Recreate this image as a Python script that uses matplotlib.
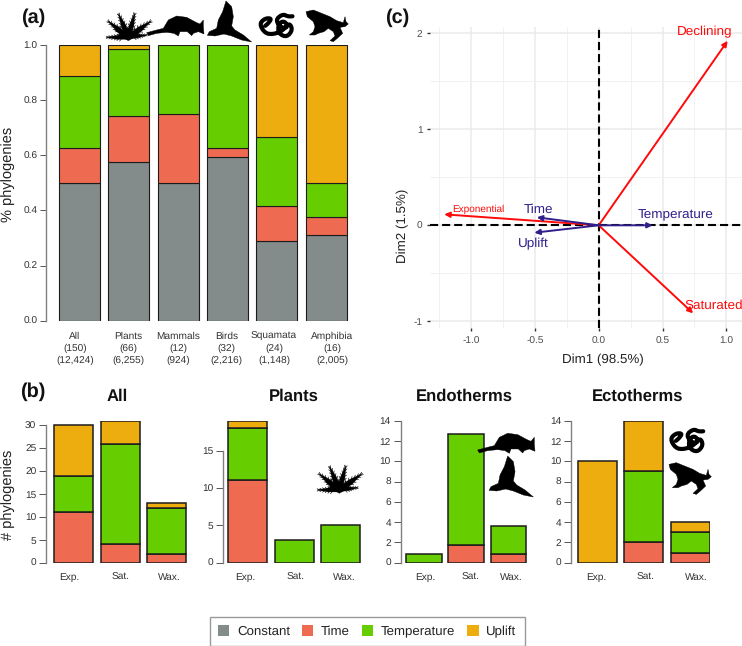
import numpy as np
import matplotlib
matplotlib.use("Agg")
import matplotlib.pyplot as plt
from matplotlib.patches import Patch, Polygon
from matplotlib.lines import Line2D

plt.rcParams['font.family'] = ['Liberation Sans', 'DejaVu Sans']
plt.rcParams['axes.unicode_minus'] = False
plt.rcParams['text.hinting'] = 'no_hinting'

W, H = 742, 646
C_CONST, C_TIME, C_TEMP, C_UPL = '#838B8B', '#EE6A50', '#66CD00', '#EEAD0E'
NAVY, RED = '#2E1F8A', '#FF0A0A'

# ---------- data ----------
a_groups = ['All', 'Plants', 'Mammals', 'Birds', 'Squamata', 'Amphibia']
a_counts = ['(150)', '(66)', '(12)', '(32)', '(24)', '(16)']
a_species = ['(12,424)', '(6,255)', '(924)', '(2,216)', '(1,148)', '(2,005)']
a_constant = [0.500, 0.575, 0.500, 0.594, 0.290, 0.3125]
a_time = [0.125, 0.167, 0.250, 0.031, 0.127, 0.0625]
a_temperature = [0.262, 0.243, 0.250, 0.375, 0.250, 0.125]
a_uplift = [0.113, 0.015, 0.000, 0.000, 0.333, 0.500]

b_cats = ['Exp.', 'Sat.', 'Wax.']
all_time = [11, 4, 2]
all_temp = [8, 22, 10]
all_upl = [11, 5, 1]
plants_time = [11, 0, 0]
plants_temp = [7, 3, 5]
plants_upl = [1, 0, 0]
endo_time = [0, 1.75, 0.85]
endo_temp = [0.85, 10.9, 2.75]
endo_upl = [0, 0, 0]
ecto_time = [0, 2, 1]
ecto_temp = [0, 7, 2]
ecto_upl = [10, 5, 1]

var_names = ['Declining', 'Saturated', 'Exponential']
var_x = [1.01, 0.74, -1.21]
var_y = [1.92, -0.916, 0.114]
sup_names = ['Time', 'Uplift', 'Temperature']
sup_x = [-0.485, -0.504, 0.423]
sup_y = [0.083, -0.077, 0.0]

# ---------- helpers ----------
fig = plt.figure(figsize=(W / 100, H / 100), dpi=100, facecolor='white')


def px_axes(x0, x1, ytop, ybot, **kw):
    return fig.add_axes([x0 / W, 1 - ybot / H, (x1 - x0) / W, (ybot - ytop) / H], **kw)


def fx(p):
    return p / W


def fy(p):
    return 1 - p / H


def stacked(ax, series, colors, width, lw):
    base = np.zeros(len(series[0]))
    pos = np.arange(len(series[0]))
    for vals, col in zip(series, colors):
        vals = np.asarray(vals, float)
        mask = vals > 0
        ax.bar(pos[mask], vals[mask], width, bottom=base[mask], color=col,
               edgecolor='#1c1c1c', linewidth=lw, zorder=2)
        base += vals


def r_axis(ax, ticks, fmt, ticklen):
    ax.set_yticks(ticks)
    ax.set_yticklabels([fmt(t) for t in ticks])
    for s in ('top', 'right', 'bottom'):
        ax.spines[s].set_visible(False)
    ax.spines['left'].set_bounds(ticks[0], ticks[-1])
    ax.spines['left'].set_color('#808080')
    ax.spines['left'].set_linewidth(1.0)
    ax.tick_params(axis='y', length=ticklen, width=0.7, color='#555555',
                   labelsize=7.3, labelcolor='#333333', pad=2)
    ax.tick_params(axis='x', length=0, labelsize=7.3, labelcolor='#333333')


# ---------- panel a ----------
ax = px_axes(46, 352, 45, 320.7)
first, step = 79.5, 49.3
ax.set_xlim((46 - first) / step, (352 - first) / step)
ax.set_ylim(0, 1)
stacked(ax, [a_constant, a_time, a_temperature, a_uplift],
        [C_CONST, C_TIME, C_TEMP, C_UPL], 41 / step, 0.8)
r_axis(ax, [0, 0.2, 0.4, 0.6, 0.8, 1.0], lambda t: f'{t:.1f}', 4)
label_px = np.array([75, 128.3, 178, 226.3, 274, 332.3])
ax.set_xticks((label_px - first) / step)
ax.set_xticklabels([f'{g}\n{c}\n{s}' for g, c, s in zip(a_groups, a_counts, a_species)],
                   linespacing=1.33)
ax.tick_params(axis='x', pad=8.2)
ax.set_ylabel('% phylogenies', fontsize=10.5, color='#222222', va='center')
ax.yaxis.set_label_coords(fx(8), fy(174), transform=fig.transFigure)

# ---------- panel b ----------
panels = [
    ('All', 46, 187, 54.3 + 19.5, 46.5, 39, 31, [0, 5, 10, 15, 20, 25, 30],
     (all_time, all_temp, all_upl), [69.7, 121, 169], 117.7),
    ('Plants', 223, 361, 247.8, 46.5, 39, 19, [0, 5, 10, 15],
     (plants_time, plants_temp, plants_upl), [245, 296, 344], 293.7),
    ('Endotherms', 400.7, 527, 423.9, 42.3, 35.6, 14, [0, 2, 4, 6, 8, 10, 12, 14],
     (endo_time, endo_temp, endo_upl), [425.3, 470.7, 511.3], 464),
    ('Ectotherms', 571, 710, 597, 46.5, 39, 14, [0, 2, 4, 6, 8, 10, 12, 14],
     (ecto_time, ecto_temp, ecto_upl), [596.7, 646, 696], 637.7),
]
for k, (title, x0, x1, c0, dx, bw, ymax, ticks, ser, lab, tx) in enumerate(panels):
    ax = px_axes(x0, x1, 420.7, 562.7)
    ax.set_xlim((x0 - c0) / dx, (x1 - c0) / dx)
    ax.set_ylim(0, ymax)
    stacked(ax, ser, [C_TIME, C_TEMP, C_UPL], bw / dx, 1.1)
    r_axis(ax, ticks, str, 5)
    ax.set_xticks((np.array(lab) - c0) / dx)
    ax.set_xticklabels(b_cats)
    ax.tick_params(axis='x', pad=7)
    ax.set_title(title, fontsize=12, fontweight='bold', x=fx(tx), y=fy(396.5),
                 transform=fig.transFigure, ha='center', va='center', color='#111111')
    if k == 0:
        ax.set_ylabel('# phylogenies', fontsize=10.5, color='#222222', va='center')
        ax.yaxis.set_label_coords(fx(8), fy(495), transform=fig.transFigure)

# ---------- panel c ----------
ox, oy, sx, sy = 598.7, 225.3, 127.7, 96.1
ax = px_axes(430, 742, 27, 328)
ax.set_xlim((430 - ox) / sx, (742 - ox) / sx)
ax.set_ylim((oy - 328) / sy, (oy - 27) / sy)
ax.set_xticks([-1, -0.5, 0, 0.5, 1])
ax.set_xticklabels(['-1.0', '-0.5', '0.0', '0.5', '1.0'])
ax.set_yticks([-1, 0, 1, 2])
ax.set_xticks([-1.25, -0.75, -0.25, 0.25, 0.75], minor=True)
ax.set_yticks([-0.5, 0.5, 1.5], minor=True)
ax.grid(True, which='major', color='#EBEBEB', lw=1.1, zorder=0)
ax.grid(True, which='minor', color='#EFEFEF', lw=0.6, zorder=0)
ax.set_axisbelow(True)
for s in ax.spines.values():
    s.set_visible(False)
ax.tick_params(axis='y', which='major', length=2, width=1, color='#333333',
               labelsize=7.3, labelcolor='#4D4D4D', pad=3.5)
ax.tick_params(axis='x', which='major', length=2, width=1, color='#333333',
               labelsize=7.3, labelcolor='#4D4D4D', pad=4.5)
ax.tick_params(axis='both', which='minor', length=0)
ax.axhline(0, color='black', lw=1.5, dashes=(3.9, 1.9), zorder=2)
ax.axvline(0, color='black', lw=1.5, dashes=(3.9, 1.9), zorder=2)
for xs, ys, col in ((var_x, var_y, RED), (sup_x, sup_y, NAVY)):
    for x, y in zip(xs, ys):
        ax.annotate('', xy=(x, y), xytext=(0, 0), zorder=3,
                    arrowprops=dict(arrowstyle='-|>,head_length=0.35,head_width=0.17',
                                    color=col, lw=1.4, shrinkA=0, shrinkB=0,
                                    mutation_scale=9))


def lab_c(name, px, py, col, size):
    ax.text((px - ox) / sx, (oy - py) / sy, name, color=col, fontsize=size,
            ha='center', va='center', zorder=4)


lab_c('Declining', 705, 32, RED, 9.7)
lab_c('Saturated', 713.5, 306, RED, 9.7)
lab_c('Exponential', 478.3, 209.5, RED, 7.2)
lab_c('Time', 538.5, 209.5, NAVY, 9.7)
lab_c('Temperature', 675.5, 215, NAVY, 9.7)
lab_c('Uplift', 533.7, 243.5, NAVY, 9.7)
ax.set_xlabel('Dim1 (98.5%)', fontsize=9.6, color='#222222', va='center')
ax.xaxis.set_label_coords(fx(603), fy(360), transform=fig.transFigure)
ax.set_ylabel('Dim2 (1.5%)', fontsize=9.6, color='#222222', va='center')
ax.yaxis.set_label_coords(fx(403), fy(226), transform=fig.transFigure)

# ---------- panel letters ----------
for letter, px, py in (('(a)', 33, 18), ('(b)', 33, 391.5), ('(c)', 397, 18)):
    fig.text(fx(px), fy(py), letter, fontsize=14.3, fontweight='bold',
             ha='center', va='center', color='#111111')

# ---------- legend ----------
handles = [Patch(facecolor=c, edgecolor='none', label=l) for c, l in
           ((C_CONST, 'Constant'), (C_TIME, 'Time'), (C_TEMP, 'Temperature'), (C_UPL, 'Uplift'))]
fig.legend(handles=handles, ncols=4, loc='center', bbox_to_anchor=(fx(367.3), fy(631.3)),
           fontsize=9.5, frameon=True, fancybox=False, edgecolor='#9a9a9a', framealpha=1,
           handlelength=0.85, handleheight=0.85, handletextpad=0.6, columnspacing=0.9,
           borderpad=0.62, borderaxespad=0, labelcolor='#222222')

# ---------- silhouettes (decorative, outline in 3x image units) ----------
ov = fig.add_axes([0, 0, 1, 1], zorder=10)
ov.set_xlim(0, W)
ov.set_ylim(H, 0)
ov.axis('off')

armadillo = [(440, 98), (470, 90), (490, 85), (505, 60), (530, 48), (560, 52), (590, 68), (600, 72), (610, 60),
             (610, 80), (612, 102), (595, 95), (580, 100), (575, 107), (562, 95), (540, 95), (535, 108),
             (522, 100), (500, 97), (470, 100), (445, 107)]
bird = [(678, 3), (695, 20), (700, 50), (695, 78), (705, 90), (730, 105), (755, 126), (725, 120), (695, 108),
        (672, 102), (645, 108), (622, 106), (628, 95), (650, 85), (655, 60), (668, 35)]
frog = [(918, 35), (940, 30), (965, 40), (990, 50), (1010, 62), (1030, 68), (1035, 50), (1038, 65), (1045, 72),
        (1035, 80), (1020, 82), (1028, 100), (1012, 115), (1000, 125), (990, 122), (1005, 108), (1000, 95),
        (985, 85), (972, 95), (955, 100), (945, 105), (928, 105), (940, 95), (945, 80), (940, 65), (922, 50)]
snake = [(885, 48), (865, 50), (848, 42), (826, 60), (845, 85), (865, 80), (852, 62), (835, 72), (835, 100),
         (860, 112), (878, 90), (868, 68), (848, 92), (820, 103), (795, 100), (778, 72), (795, 55), (815, 55),
         (805, 70), (790, 82)]
palm_tips = [(318, 112), (322, 62), (355, 40), (405, 38), (455, 62), (442, 105), (345, 88), (430, 85)]
palm_base = [(355, 105), (385, 122), (415, 105), (385, 85)]


def chaikin(p, n=2):
    for _ in range(n):
        q = np.empty((2 * (len(p) - 1), 2))
        q[0::2] = 0.75 * p[:-1] + 0.25 * p[1:]
        q[1::2] = 0.25 * p[:-1] + 0.75 * p[1:]
        p = q
    return p


def poly(pts, dx=0, dy=0):
    p = np.array(pts, float) / 3 + [dx, dy]
    ov.add_patch(Polygon(p, closed=True, facecolor='black', edgecolor='black', lw=0.3))


def palm_draw(dx, dy):
    p = np.array(palm_tips, float) / 3 + [dx, dy]
    c = np.array([385, 112]) / 3 + [dx, dy]
    for t in p:
        v = t - c
        n = v[::-1] * [1, -1] * 0.09
        ov.add_patch(Polygon([c - n, c + 0.5 * v - n, t, c + 0.5 * v + n, c + n],
                             closed=True, facecolor='black', edgecolor='black', lw=0.2))
        for f in np.arange(0.25, 0.95, 0.12):
            m = c + f * v
            for sgn in (-1, 1):
                e = m + 0.14 * v + sgn * 2.2 * n * (1.1 - f)
                ov.add_line(Line2D([m[0], e[0]], [m[1], e[1]], color='black', lw=0.45))
    poly(palm_base, dx, dy)


def snake_draw(dx, dy):
    p = chaikin(np.array(snake, float)) / 3 + [dx, dy]
    ov.add_line(Line2D(p[:, 0], p[:, 1], color='black', lw=3.0, solid_joinstyle='round',
                       solid_capstyle='round'))


poly(armadillo)
poly(bird)
poly(frog)
snake_draw(0, 0)
palm_draw(0, 0)
poly(armadillo, 331, 417.3)
poly(bird, 281.7, 455)
poly(frog, 363, 452.7)
snake_draw(410.7, 415)
palm_draw(211, 452.6)

fig.savefig('out.png', dpi=100, facecolor='white')
